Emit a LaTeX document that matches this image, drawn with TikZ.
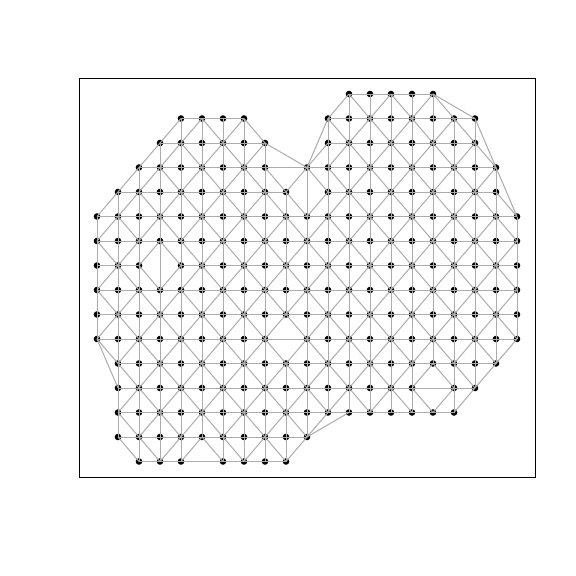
\documentclass[tikz,border=0pt]{standalone}
\usepackage{tikz}

\definecolor{meshgray}{RGB}{172,172,172}
% 1 if the mesh point exists, 0 if not
\newcommand\isin[1]{\ifcsname pgf@sh@ns@#1\endcsname 1\else 0\fi}
\newcommand\meshlink[2]{\ifnum\numexpr\isin{#1}*\isin{#2}\relax=1 \draw[meshedge] (#1) -- (#2);\fi}

\begin{document}
\begin{tikzpicture}[x=1pt, y=-1pt,
    site/.style={fill=black},
    meshedge/.style={draw=meshgray, line width=1pt},
    frame/.style={draw=black, line width=0.8pt}
    ]
\useasboundingbox (0,0) rectangle (576,576);
\draw[frame] (79,78) rectangle (535,477);

% mesh points, row by row
\foreach \i/\cols in {0/{12,...,16},
    1/{4,5,6,7,11,12,13,14,15,16,17,18},
    2/{3,4,5,6,7,8,11,12,13,14,15,16,17,18},
    3/{2,3,4,5,6,7,8,10,11,12,13,14,15,16,17,18,19},
    4/{1,2,3,4,5,6,7,8,9,11,12,13,14,15,16,17,18,19},
    5/{0,...,20},
    6/{0,...,20},
    7/{0,1,2,4,5,6,7,8,9,10,11,12,13,14,15,16,17,18,19,20},
    8/{0,...,20},
    9/{0,...,20},
    10/{0,1,2,3,4,5,6,7,8,10,11,12,13,14,15,16,17,18,19,20},
    11/{1,...,19},
    12/{1,2,3,4,5,6,7,8,9,10,11,12,13,14,15,17,18},
    13/{1,...,17},
    14/{1,...,10},
    15/{2,3,4,6,7,8,9}}
  \foreach \j in \cols {
    \coordinate (p-\i-\j) at (97+21*\j, 94+24.5*\i);
    \fill[site] (p-\i-\j) circle (3.3);
  }

% grid edges and one diagonal per cell
\foreach \i in {0,...,15}
  \foreach \j in {0,...,20} {
    \pgfmathtruncatemacro\ii{\i+1}
    \pgfmathtruncatemacro\jj{\j+1}
    \pgfmathtruncatemacro\odd{mod(\i+\j,2)}
    \meshlink{p-\i-\j}{p-\i-\jj}
    \meshlink{p-\i-\j}{p-\ii-\j}
    \edef\nA{\isin{p-\i-\j}}\edef\nB{\isin{p-\i-\jj}}%
    \edef\nC{\isin{p-\ii-\j}}\edef\nD{\isin{p-\ii-\jj}}%
    \ifnum\numexpr\nA*\nD*(1-\nB*\nC*\odd)\relax=1
      \draw[meshedge] (p-\i-\j) -- (p-\ii-\jj);\fi
    \ifnum\numexpr\nB*\nC*(1-\nA*\nD*(1-\odd))\relax=1
      \draw[meshedge] (p-\i-\jj) -- (p-\ii-\j);\fi
  }

% edges across the gaps and along the boundary
\foreach \a/\b in {p-2-8/p-3-10, p-3-8/p-3-10, p-1-11/p-3-10, p-3-10/p-5-10,
    p-0-16/p-1-18, p-1-18/p-3-19, p-3-19/p-5-20, p-10-0/p-12-1,
    p-14-10/p-13-12, p-15-4/p-15-6, p-10-8/p-10-10, p-12-15/p-12-17,
    p-6-3/p-8-3}
  \draw[meshedge] (\a) -- (\b);
\end{tikzpicture}
\end{document}
